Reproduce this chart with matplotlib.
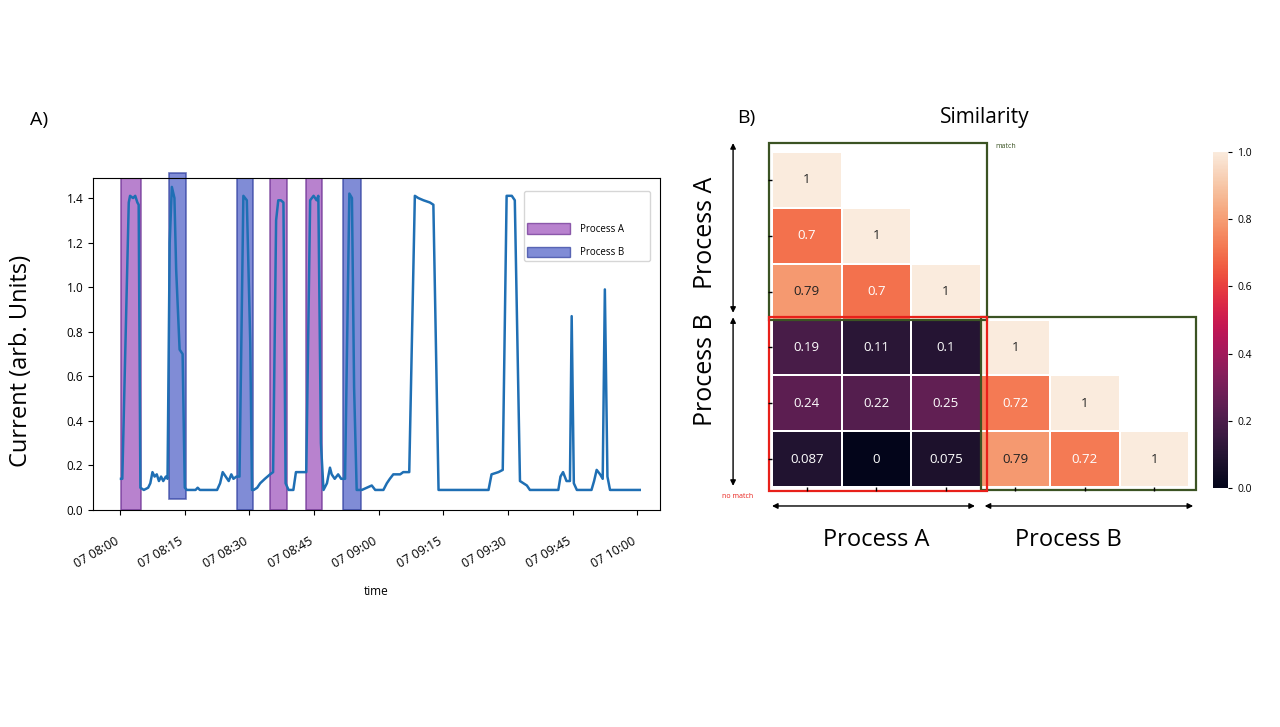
import numpy as np
import pandas as pd
import matplotlib
matplotlib.use("Agg")
import matplotlib.pyplot as plt
import matplotlib.dates as mdates
from matplotlib.patches import Rectangle, Patch
import seaborn as sns

plt.rcParams['font.family'] = ['Open Sans', 'DejaVu Sans']

# ---- data: current trace (minutes after 08:00, value) ----
minutes = [0.2, 0.5, 2.0, 2.3, 3.0, 3.5, 4.0, 4.3, 4.7, 5.5, 6.5, 7.0, 7.5, 8.0, 8.5,
           9.0, 9.5, 10.0, 10.6, 11.0, 11.5, 12.0, 12.6, 13.0, 13.8, 14.5, 15.0, 15.5,
           17.5, 18.0, 18.5, 22.5, 23.2, 23.8, 24.5, 25.2, 25.8, 26.3, 27.0, 27.7,
           28.6, 29.4, 30.2, 30.6, 31.0, 31.8, 32.5, 33.6, 34.8, 35.5, 36.2, 36.7,
           37.3, 37.9, 38.4, 39.1, 40.2, 40.8, 42.8, 43.2, 44.1, 44.9, 45.6, 46.0,
           46.6, 47.2, 48.0, 48.7, 49.1, 49.8, 50.6, 51.3, 52.2, 53.2, 53.8, 54.3,
           54.9, 56.1, 58.4, 59.2, 59.6, 61.1, 61.9, 62.6, 63.4, 65.0, 65.7, 67.1,
           68.4, 69.2, 70.4, 71.9, 72.7, 73.9, 85.5, 86.2, 87.8, 88.8, 89.7, 90.9,
           91.6, 92.8, 94.4, 95.1, 101.7, 102.2, 102.8, 103.6, 104.4, 104.8, 105.3,
           106.0, 109.4, 110.0, 110.6, 111.4, 112.0, 112.5, 113.1, 113.7, 120.6]
current = [0.14, 0.14, 1.38, 1.41, 1.40, 1.41, 1.38, 1.37, 0.10, 0.09, 0.10, 0.12, 0.17, 0.15, 0.16,
           0.13, 0.15, 0.13, 0.15, 0.14, 1.20, 1.45, 1.40, 1.08, 0.72, 0.70, 0.10, 0.09,
           0.09, 0.10, 0.09, 0.09, 0.12, 0.17, 0.15, 0.13, 0.16, 0.14, 0.15, 0.15,
           1.41, 1.39, 0.75, 0.09, 0.09, 0.10, 0.12, 0.14, 0.16, 0.17, 1.30, 1.39,
           1.39, 1.38, 0.12, 0.09, 0.09, 0.17, 0.17, 0.17, 1.39, 1.41, 1.39, 1.41,
           0.30, 0.09, 0.12, 0.19, 0.16, 0.14, 0.16, 0.14, 0.14, 1.42, 1.40, 0.55,
           0.09, 0.09, 0.11, 0.09, 0.09, 0.09, 0.12, 0.14, 0.16, 0.16, 0.17, 0.17,
           1.41, 1.40, 1.39, 1.38, 1.37, 0.09, 0.09, 0.16, 0.17, 0.18, 1.41, 1.41,
           1.39, 0.13, 0.11, 0.09, 0.09, 0.15, 0.17, 0.13, 0.13, 0.87, 0.12,
           0.09, 0.09, 0.13, 0.18, 0.16, 0.14, 0.99, 0.15, 0.09, 0.09]

# process windows (minutes after 08:00)
process_a = [(0.2, 4.9), (34.8, 38.7), (43.2, 46.9)]
process_b = [(11.4, 15.3), (27.1, 30.8), (51.8, 55.9)]

# ---- data: similarity matrix ----
similarity = np.array([
    [1.0,   np.nan, np.nan, np.nan, np.nan, np.nan],
    [0.7,   1.0,   np.nan, np.nan, np.nan, np.nan],
    [0.79,  0.7,   1.0,   np.nan, np.nan, np.nan],
    [0.19,  0.11,  0.1,   1.0,   np.nan, np.nan],
    [0.24,  0.22,  0.25,  0.72,  1.0,   np.nan],
    [0.087, 0.0,   0.075, 0.79,  0.72,  1.0],
])

t0 = pd.Timestamp('2021-01-07 08:00')
times = t0 + pd.to_timedelta(minutes, unit='min')

W, H = 1280, 727
fig = plt.figure(figsize=(12.8, 7.27), dpi=100)

def fx(px):
    return px / W

def fy(py):
    return 1 - py / H

# =============== A) current trace ===============
ax = fig.add_axes([fx(93), fy(510), fx(660) - fx(93), fy(178) - fy(510)])
for s, e in process_a:
    ax.axvspan(t0 + pd.Timedelta(minutes=s), t0 + pd.Timedelta(minutes=e),
               facecolor='#9b4dba', edgecolor='#6a2c91', alpha=0.7, lw=1.2)
for i, (s, e) in enumerate(process_b):
    kw = dict(ymin=0.034, ymax=1.015, clip_on=False) if i == 0 else {}
    ax.axvspan(t0 + pd.Timedelta(minutes=s), t0 + pd.Timedelta(minutes=e),
               facecolor='#4a5cc5', edgecolor='#2e3d9e', alpha=0.7, lw=1.2, **kw)
ax.plot(times, current, color='#1f6fb4', lw=1.8, zorder=3)

ax.set_xlim(t0 - pd.Timedelta(minutes=6.3), t0 + pd.Timedelta(minutes=125.3))
ax.set_ylim(0, 1.49)
ax.set_yticks(np.arange(0, 1.41, 0.2))
ax.yaxis.set_major_formatter(plt.FormatStrFormatter('%.1f'))
ax.xaxis.set_major_locator(mdates.MinuteLocator(byminute=[0, 15, 30, 45]))
ax.xaxis.set_major_formatter(mdates.DateFormatter('%d %H:%M  '))
ax.tick_params(labelsize=8.5)
ax.tick_params(axis='x', labelsize=9, pad=12)
plt.setp(ax.get_xticklabels(), rotation=30, ha='right', va='top', rotation_mode='anchor')
ax.set_xlabel('time', fontsize=8.5, labelpad=10)
ax.set_ylabel('Current (arb. Units)', fontsize=17)
ax.yaxis.set_label_coords(-0.106, 0.45)

handles = [Patch(facecolor='#9b4dba', edgecolor='#6a2c91', alpha=0.7, label='Process A'),
           Patch(facecolor='#4a5cc5', edgecolor='#2e3d9e', alpha=0.7, label='Process B')]
ax.legend(handles=handles, loc='upper left', bbox_to_anchor=(0.751, 0.976, 0.24, 0.0),
          mode='expand', fontsize=7, title=' ', title_fontsize=14,
          handlelength=4.5, handleheight=1.3, handletextpad=1.0, labelspacing=1.2,
          borderpad=0.3)

fig.text(fx(30), fy(120), 'A)', fontsize=14, va='center')

# =============== B) similarity heatmap ===============
hx0, hx1, hy0, hy1 = 772, 1189, 152, 487
hax = fig.add_axes([fx(hx0), fy(hy1), fx(hx1) - fx(hx0), fy(hy0) - fy(hy1)])
cax = fig.add_axes([fx(1213), fy(488), fx(1228) - fx(1213), fy(152) - fy(488)])
sns.heatmap(similarity, ax=hax, cbar_ax=cax, cmap='rocket', vmin=0, vmax=1,
            linewidths=0.3, linecolor='white', xticklabels=False, yticklabels=False)
hax.set_xticks(np.arange(6) + 0.5)
hax.set_yticks(np.arange(6) + 0.5)
hax.set_xticklabels([])
hax.set_yticklabels([])
hax.tick_params(length=3, width=1)
cax.tick_params(labelsize=7.5, length=3)
cax.set_yticks(np.arange(0, 1.01, 0.2))
cax.yaxis.set_major_formatter(plt.FormatStrFormatter('%.1f'))

n = similarity.shape[0]
for i in range(n):
    for j in range(i + 1):
        v = similarity[i, j]
        txt = f'{v:.2g}'
        if v < 0.5 or (0.6 < v < 0.75):
            col = 'white'
        else:
            col = '#222222'
        hax.text(j + 0.5, i + 0.5, txt, ha='center', va='center', fontsize=9.5, color=col)

green = '#3b5323'
red = '#e8201a'
hax.add_patch(Rectangle((-0.04, -0.16), 3.14, 3.16, fill=False, ec=green, lw=1.6, clip_on=False))
hax.add_patch(Rectangle((3.0, 2.96), 3.1, 3.1, fill=False, ec=green, lw=1.6, clip_on=False))
hax.add_patch(Rectangle((-0.04, 2.96), 3.14, 3.12, fill=False, ec=red, lw=1.6, clip_on=False))

arrow = dict(arrowstyle='<|-|>', color='black', lw=1.0, mutation_scale=8, shrinkA=0, shrinkB=0)
hax.annotate('', xy=(-0.56, -0.16), xytext=(-0.56, 2.88), xycoords='data', arrowprops=arrow,
             annotation_clip=False)
hax.annotate('', xy=(-0.56, 2.96), xytext=(-0.56, 5.98), xycoords='data', arrowprops=arrow,
             annotation_clip=False)
hax.annotate('', xy=(0.0, 6.34), xytext=(2.92, 6.34), xycoords='data', arrowprops=arrow,
             annotation_clip=False)
hax.annotate('', xy=(3.06, 6.34), xytext=(6.06, 6.34), xycoords='data', arrowprops=arrow,
             annotation_clip=False)

fig.text(fx(706), fy(233), 'Process A', rotation=90, fontsize=18, ha='center', va='center')
fig.text(fx(706), fy(370), 'Process B', rotation=90, fontsize=18, ha='center', va='center')
fig.text(fx(876), fy(540), 'Process A', fontsize=17, ha='center', va='center')
fig.text(fx(1068), fy(540), 'Process B', fontsize=17, ha='center', va='center')
fig.text(fx(985), fy(118), 'Similarity', fontsize=15, ha='center', va='center')
fig.text(fx(737), fy(118), 'B)', fontsize=14, va='center')
fig.text(fx(995), fy(147), 'match', fontsize=5, color=green, va='center')
fig.text(fx(722), fy(497), 'no match', fontsize=5, color=red, va='center')

fig.savefig('out.png', dpi=100)
